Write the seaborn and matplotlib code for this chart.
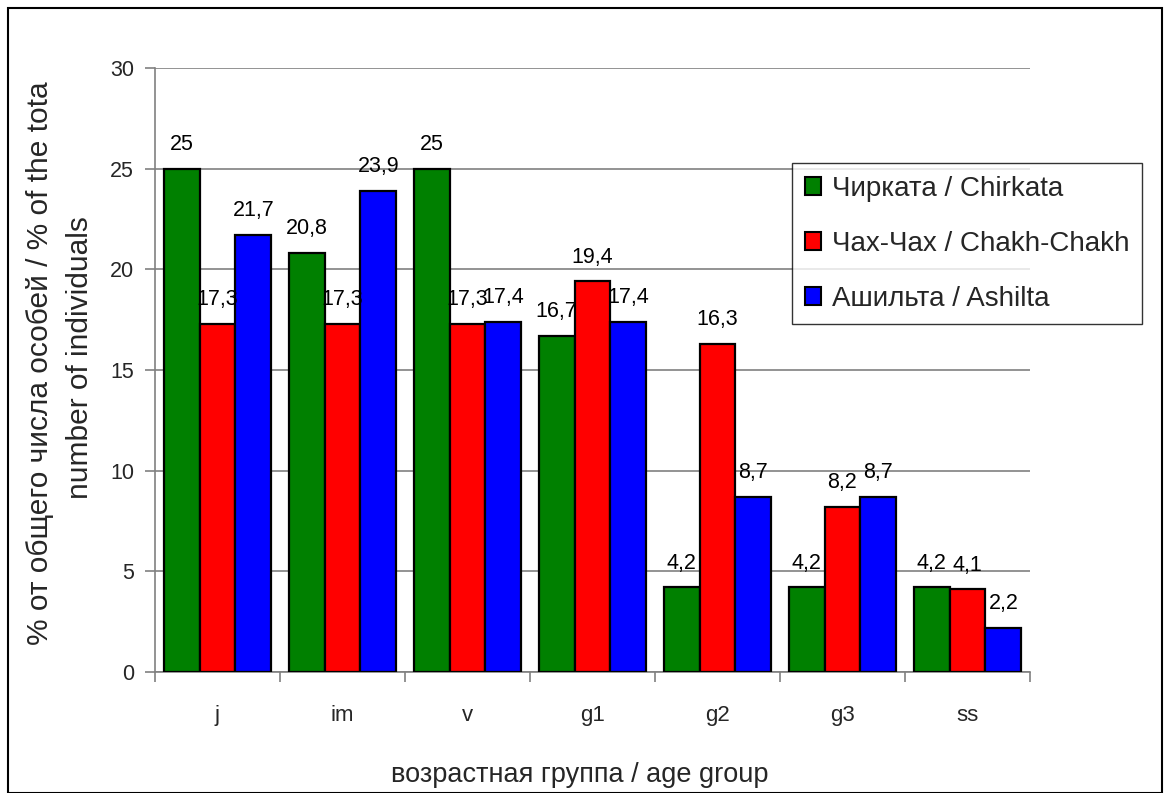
import matplotlib
matplotlib.use("Agg")
import matplotlib.pyplot as plt
import seaborn as sns
import pandas as pd
from matplotlib.patches import Rectangle

groups = ["j", "im", "v", "g1", "g2", "g3", "ss"]
series_names = ["Чирката / Chirkata", "Чах-Чах / Chakh-Chakh", "Ашильта / Ashilta"]
chirkata = [25, 20.8, 25, 16.7, 4.2, 4.2, 4.2]
chakh = [17.3, 17.3, 17.3, 19.4, 16.3, 8.2, 4.1]
ashilta = [21.7, 23.9, 17.4, 17.4, 8.7, 8.7, 2.2]
colors = ["#008000", "#FF0000", "#0000FF"]

rows = []
for name, vals in zip(series_names, [chirkata, chakh, ashilta]):
    for g, v in zip(groups, vals):
        rows.append({"group": g, "site": name, "value": v})
df = pd.DataFrame(rows)

sns.set_theme(style="white")
plt.rcParams["font.family"] = ["Liberation Sans", "DejaVu Sans"]

fig = plt.figure(figsize=(11.7, 7.93), dpi=100)
ax = fig.add_axes([155/1170, 1-672/793, (1030-155)/1170, (672-68)/793])

sns.barplot(data=df, x="group", y="value", hue="site", order=groups,
            hue_order=series_names, palette=dict(zip(series_names, colors)),
            width=0.86, edgecolor="black", linewidth=1.6, saturation=1,
            ax=ax, legend=True, zorder=3)

for cont, vals in zip(ax.containers, [chirkata, chakh, ashilta]):
    labs = [("%g" % v).replace(".", ",") for v in vals]
    ax.bar_label(cont, labels=labs, padding=10, fontsize=15.5, color="black")

ax.set_ylim(0, 30)
ax.set_xlim(-0.5, 6.5)
ax.set_yticks([0, 5, 10, 15, 20, 25, 30])
ax.yaxis.grid(True, color="#808080", linewidth=1.2, zorder=0)
ax.set_axisbelow(True)
for s in ["top", "right"]:
    ax.spines[s].set_visible(False)
for s in ["left", "bottom"]:
    ax.spines[s].set_color("#808080")
    ax.spines[s].set_linewidth(1.2)

ax.set_xticks([i + 0.5 for i in range(-1, 7)], minor=False)
ax.set_xticklabels([])
ax.set_xticks(range(7), minor=True)
ax.set_xticklabels(groups, minor=True, fontsize=16)
ax.tick_params(axis="x", which="major", length=7, color="#808080", width=1.2, direction="out", bottom=True)
ax.tick_params(axis="x", which="minor", length=0, pad=24, bottom=True)
ax.tick_params(axis="y", length=7, color="#808080", width=1.2, direction="out", left=True, labelsize=15.5, pad=8)
ax.set_xlabel("")
ax.set_ylabel("")

fig.text(580/1170, 1-775/793, "возрастная группа / age group", ha="center", va="center", fontsize=19.5)
fig.text(40/1170, 1-645/793, "% от общего числа особей / % of the tota", rotation=90,
         ha="center", va="bottom", fontsize=21.5)
fig.text(80/1170, 1-358/793, "number of individuals", rotation=90,
         ha="center", va="center", fontsize=21.5)

leg = ax.legend(loc="upper left", bbox_to_anchor=((792-155)/875, 1-(163-68)/604),
                frameon=True, fontsize=20, handlelength=0.6, handleheight=0.6,
                labelspacing=1.05, handletextpad=0.4, borderpad=0.45, fancybox=False,
                borderaxespad=0)
leg.get_frame().set_edgecolor("black")
leg.get_frame().set_linewidth(1.0)
for h in leg.legend_handles:
    h.set_edgecolor("black")
    h.set_linewidth(1.5)

fig.patches.append(Rectangle((8/1170, 0), (1162-8)/1170, 1-8/793, transform=fig.transFigure,
                             fill=False, edgecolor="black", linewidth=1.5))

fig.savefig("out.png", dpi=100)
